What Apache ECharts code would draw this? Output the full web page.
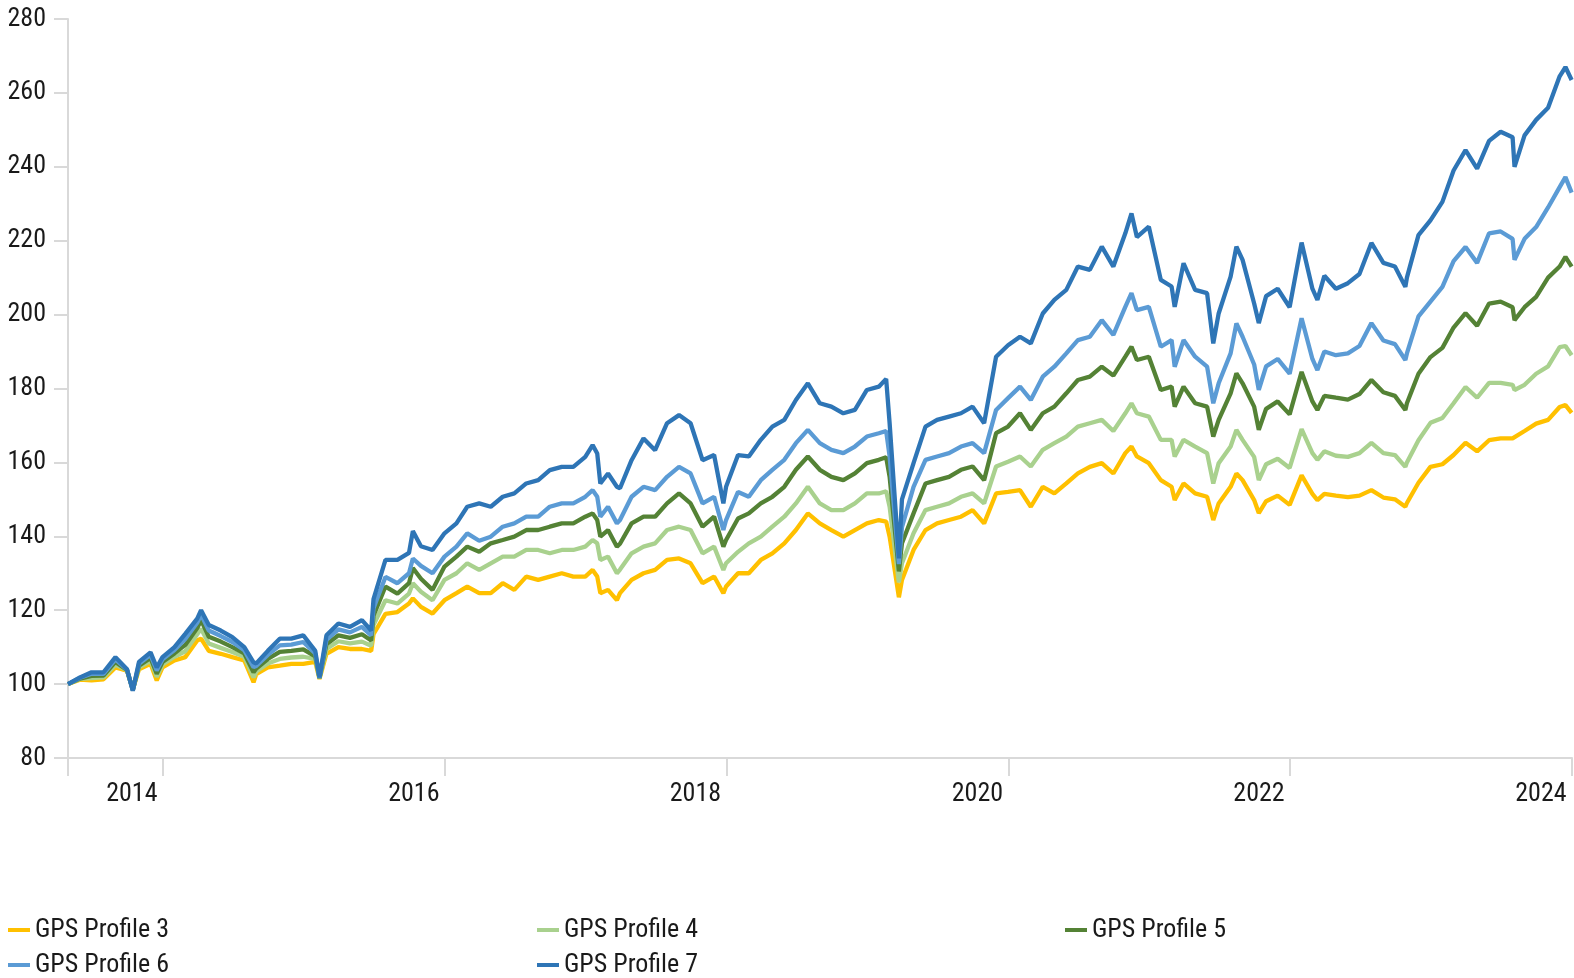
<!DOCTYPE html>
<html><head><meta charset="utf-8">
<script src="https://cdn.jsdelivr.net/npm/echarts@6/dist/echarts.min.js"></script>
<style>html,body{margin:0;padding:0;background:#fff}#c{width:1574px;height:978px}</style>
</head><body><div id="c"></div>
<script>
const dates = ['2014-04-30','2014-05-31','2014-06-30','2014-07-31','2014-08-31','2014-09-30','2014-10-15','2014-10-31','2014-11-30','2014-12-16',
'2014-12-31','2015-01-31','2015-02-28','2015-03-31','2015-04-10','2015-04-30','2015-05-31','2015-06-30','2015-07-31','2015-08-24',
'2015-08-31','2015-09-30','2015-10-31','2015-11-30','2015-12-31','2016-01-31','2016-02-11','2016-02-29','2016-03-31','2016-04-30',
'2016-05-31','2016-06-24','2016-06-30','2016-07-31','2016-08-31','2016-09-30','2016-10-10','2016-10-31','2016-11-30','2016-12-31',
'2017-01-31','2017-02-28','2017-03-31','2017-04-30','2017-05-31','2017-06-30','2017-07-31','2017-08-31','2017-09-30','2017-10-31',
'2017-11-30','2017-12-31','2018-01-19','2018-01-31','2018-02-08','2018-02-28','2018-03-23','2018-03-31','2018-04-30','2018-05-31',
'2018-06-30','2018-07-31','2018-08-31','2018-09-30','2018-10-31','2018-11-30','2018-12-24','2018-12-31','2019-01-31','2019-02-28',
'2019-03-31','2019-04-30','2019-05-31','2019-06-30','2019-07-31','2019-08-31','2019-09-30','2019-10-31','2019-11-30','2019-12-31',
'2020-01-31','2020-02-19','2020-02-28','2020-03-23','2020-03-31','2020-04-30','2020-05-31','2020-06-30','2020-07-31','2020-08-31',
'2020-09-30','2020-10-30','2020-11-30','2020-12-31','2021-01-31','2021-02-28','2021-03-31','2021-04-30','2021-05-31','2021-06-30',
'2021-07-31','2021-08-31','2021-09-30','2021-10-31','2021-11-16','2021-11-30','2021-12-31','2022-01-31','2022-02-28','2022-03-08',
'2022-03-31','2022-04-30','2022-05-31','2022-06-16','2022-06-30','2022-07-31','2022-08-15','2022-08-31','2022-09-30','2022-10-12',
'2022-10-31','2022-11-30','2022-12-31','2023-01-31','2023-02-28','2023-03-13','2023-03-31','2023-04-30','2023-05-31','2023-06-30',
'2023-07-31','2023-08-31','2023-09-30','2023-10-27','2023-10-31','2023-11-30','2023-12-31','2024-01-31','2024-02-29','2024-03-31',
'2024-04-30','2024-05-31','2024-06-30','2024-07-31','2024-08-05','2024-08-31','2024-09-30','2024-10-31','2024-11-30','2024-12-15',
'2024-12-31'];

const profile3 = [100,101.2,101.0,101.3,104.5,103.6,98.6,104.0,105.5,101.0,
104.5,106.4,107.3,111.8,112.3,109.0,108.2,107.3,106.4,100.5,
102.7,104.5,105.0,105.5,105.5,106.0,101.4,108.2,110.0,109.5,
109.5,109.0,113.5,119.0,119.5,121.8,123.2,120.9,119.1,122.7,
124.6,126.4,124.6,124.6,127.3,125.5,129.1,128.2,129.1,130.0,
129.1,129.1,130.9,129.1,124.6,125.5,122.7,124.6,128.2,130.0,
130.9,133.6,134.0,132.7,127.3,129.1,124.6,126.4,130.0,130.0,
133.6,135.4,138.1,141.7,146.2,143.5,141.7,139.9,141.7,143.5,
144.4,144.0,139.9,123.5,128.2,136.3,141.7,143.5,144.4,145.3,
147.1,143.5,151.6,152.0,152.5,148.0,153.4,151.6,154.3,157.0,
158.8,159.8,157.0,162.5,164.3,161.6,159.8,155.2,153.4,149.8,
154.3,151.6,150.7,144.4,148.9,153.4,157.0,155.2,149.8,146.3,
149.5,151.0,148.5,156.5,151.5,149.8,151.5,151.0,150.6,151.0,
152.5,150.5,150.0,148.0,149.0,154.5,158.8,159.5,162.0,165.3,
163.0,166.0,166.5,166.5,166.0,168.5,170.5,171.5,175.0,175.5,
173.4];

const profile4 = [100,101.4,101.6,101.8,105.3,103.7,98.5,104.5,106.3,102.0,
105.3,107.4,108.9,113.5,115.0,111.0,109.8,108.7,107.4,101.8,
103.4,105.6,106.8,107.2,107.4,106.8,101.5,109.5,111.6,111.0,
111.5,110.4,116.0,122.7,121.8,124.5,127.3,125.0,122.7,128.2,
130.0,132.7,130.9,132.7,134.5,134.5,136.3,136.3,135.4,136.3,
136.3,137.2,139.0,138.1,133.6,134.5,130.0,131.0,135.4,137.2,
138.1,141.7,142.6,141.7,135.4,137.2,130.9,132.7,135.8,138.1,
139.9,142.6,145.3,148.9,153.4,148.9,147.1,147.1,148.9,151.6,
151.6,152.2,148.0,127.5,132.7,140.8,147.1,148.0,148.9,150.7,
151.6,148.9,158.9,160.2,161.6,158.9,163.4,165.2,167.0,169.7,
170.6,171.5,168.5,173.3,176.0,173.3,172.4,166.1,166.1,161.6,
166.1,164.3,162.5,154.3,159.8,164.3,168.8,166.1,161.5,155.2,
159.5,161.0,158.5,169.0,162.5,160.7,163.0,161.8,161.5,162.5,
165.3,162.5,162.0,158.8,160.0,166.0,170.7,172.0,176.0,180.4,
177.5,181.5,181.5,181.0,179.6,181.0,184.0,186.0,191.2,191.5,
189.0];

const profile5 = [100,101.5,102.2,102.3,106.0,103.8,98.4,105.0,107.1,102.8,
106.0,108.3,110.6,115.2,117.3,112.8,111.5,110.0,108.3,103.2,
104.2,106.8,108.7,109.0,109.4,107.5,101.6,110.8,113.2,112.5,
113.5,111.8,118.5,126.4,124.5,127.3,131.4,128.5,125.5,131.8,
134.5,137.2,135.8,138.1,139.0,139.9,141.7,141.7,142.6,143.5,
143.5,145.3,146.2,144.4,139.9,141.7,137.2,138.0,143.5,145.3,
145.3,148.9,151.6,148.9,142.6,145.3,137.2,139.0,144.8,146.2,
148.9,150.7,153.4,158.0,161.6,158.0,156.1,155.2,157.0,159.8,
160.7,161.4,156.1,130.5,138.1,146.2,154.3,155.2,156.1,158.0,
158.9,155.2,167.9,169.7,173.3,168.8,173.3,175.1,178.7,182.3,
183.2,185.9,183.5,188.6,191.3,187.7,188.6,179.6,180.5,175.1,
180.5,176.0,175.1,167.0,171.5,178.7,184.1,181.4,175.1,168.8,
174.5,176.5,173.0,184.5,176.5,174.2,178.0,177.5,177.0,178.5,
182.3,179.0,178.0,174.2,176.0,184.0,188.5,191.0,196.5,200.4,
197.0,203.0,203.5,202.0,198.5,202.0,204.8,210.0,213.0,215.6,
213.0];

const profile6 = [100,101.7,102.8,102.8,106.7,103.9,98.3,105.5,107.9,103.7,
106.7,109.2,112.2,116.6,118.8,114.5,113.0,111.4,109.2,104.6,
104.9,107.9,110.5,110.7,111.4,108.3,101.7,112.0,114.8,114.0,
115.5,113.2,120.5,129.0,127.3,130.0,134.0,132.0,130.0,134.5,
137.2,140.8,138.8,139.9,142.6,143.5,145.3,145.3,148.0,148.9,
148.9,150.7,152.5,150.7,145.3,148.0,143.5,144.4,150.7,153.4,
152.5,156.1,158.8,157.0,148.9,150.7,141.7,144.4,152.0,150.7,
155.2,158.0,160.7,165.2,168.8,165.2,163.4,162.5,164.3,167.0,
167.9,168.5,161.6,132.5,142.5,153.4,160.7,161.6,162.5,164.3,
165.2,162.5,174.2,177.4,180.5,176.9,183.2,185.9,189.5,193.1,
194.0,198.5,194.5,202.1,205.8,201.2,202.1,191.3,193.1,185.9,
193.1,188.6,185.9,176.0,181.4,189.5,197.6,194.0,186.5,179.6,
186.0,188.0,184.0,199.0,188.0,185.0,190.0,189.0,189.5,191.5,
197.7,193.0,192.0,187.7,189.5,199.5,203.5,207.5,214.5,218.3,
214.0,222.0,222.5,220.5,214.8,220.5,223.7,229.0,234.5,237.2,
233.0];

const profile7 = [100,101.8,103.2,103.2,107.3,104.0,98.2,106.0,108.6,104.5,
107.3,110.0,113.6,117.7,120.0,116.0,114.5,112.7,110.0,105.9,
105.6,109.0,112.3,112.3,113.2,109.0,101.8,113.2,116.4,115.5,
117.3,114.5,123.0,133.6,133.6,135.5,141.4,137.3,136.3,140.8,
143.5,148.0,148.9,148.0,150.7,151.6,154.3,155.2,157.9,158.8,
158.8,161.5,164.7,162.4,154.3,157.0,153.4,153.0,160.6,166.5,
163.3,170.6,172.8,170.6,160.6,162.0,148.9,153.4,162.0,161.6,
166.1,169.7,171.5,176.9,181.4,176.0,175.1,173.3,174.2,179.6,
180.5,182.6,170.6,134.0,150.0,159.8,169.7,171.5,172.4,173.3,
175.1,170.6,188.6,191.7,194.0,192.2,200.3,204.0,206.7,213.0,
212.1,218.4,213.0,222.0,227.4,221.0,223.8,209.4,207.6,202.1,
213.9,206.7,205.8,192.2,200.3,210.3,218.4,214.8,203.0,197.7,
205.0,207.0,202.0,219.5,207.0,204.0,210.5,207.0,208.5,211.0,
219.4,214.0,213.0,207.5,210.0,221.5,225.5,230.5,239.0,244.5,
239.5,247.0,249.5,248.0,240.0,248.5,252.7,256.0,264.5,267.0,
263.5];

const seriesNames = ['GPS Profile 3','GPS Profile 4','GPS Profile 5','GPS Profile 6','GPS Profile 7'];
const seriesValues = [profile3, profile4, profile5, profile6, profile7];
const seriesColors = ['#FFC000','#A9D18E','#548235','#5B9BD5','#2E75B6'];

const xAxisStart = '2014-04-30';
const xAxisEnd = '2025-01-01';
const xTickDates = ['2014-04-30','2015-01-01','2017-01-01','2019-01-01','2021-01-01','2023-01-01','2025-01-01'];
const xLabelDates = ['2014-12-31','2016-12-31','2018-12-31','2020-12-31','2022-12-31','2024-12-31'];

const ts = s => { const p = s.split('-').map(Number); return Date.UTC(p[0], p[1]-1, p[2]); };

// choose the narrowest available sans font (the original uses a condensed face)
function fontAvailable(name){
  const c = document.createElement('canvas').getContext('2d');
  const s = 'GPS Profile 2014 abcdefghijklmnop';
  let diff = false;
  ['monospace','serif'].forEach(fb=>{
    c.font = '40px ' + fb; const a = c.measureText(s).width;
    c.font = "40px '" + name + "', " + fb; const b = c.measureText(s).width;
    if (Math.abs(a-b) > 0.5) diff = true;
  });
  return diff;
}
const fontCandidates = ['Liberation Sans Narrow','Arial Narrow','Roboto Condensed','Noto Sans Condensed','Open Sans Condensed','DejaVu Sans Condensed','Roboto','Liberation Sans'];
const FONT_NAME = fontCandidates.find(fontAvailable) || 'sans-serif';
const FONT = "'" + FONT_NAME + "', sans-serif";
const FS = (function(){
  const c = document.createElement('canvas').getContext('2d');
  c.font = "100px " + FONT;
  const w = c.measureText('GPS Profile 3').width;
  const sizeForWidth = 127 * 100 / w;
  return Math.min(28, Math.round((sizeForWidth + 28) / 2));
})();

const TXT = '#1a1a1a';
const AX = '#d9d9d9';

const legendPos = [
  {name:seriesNames[0], left:8, top:914},
  {name:seriesNames[1], left:537, top:914},
  {name:seriesNames[2], left:1065, top:914},
  {name:seriesNames[3], left:8, top:949},
  {name:seriesNames[4], left:537, top:949}
];

const chart = echarts.init(document.getElementById('c'), null, {renderer:'canvas'});
chart.setOption({
  animation:false,
  backgroundColor:'#fff',
  textStyle:{fontFamily:FONT},
  grid:{left:68, right:2, top:19, bottom:220, containLabel:false},
  legend: legendPos.map(p=>({
    data:[p.name], left:p.left, top:p.top, padding:0, orient:'horizontal',
    icon:'rect', itemWidth:22, itemHeight:4,
    textStyle:{fontFamily:FONT, fontSize:FS, color:TXT, lineHeight:32}
  })),
  xAxis:{
    type:'value', min:ts(xAxisStart), max:ts(xAxisEnd), scale:true,
    axisLine:{show:true, lineStyle:{color:AX, width:2}},
    axisTick:{show:true, customValues:xTickDates.map(ts), length:18, lineStyle:{color:AX, width:2}},
    axisLabel:{customValues:xLabelDates.map(ts), formatter:v=>String(new Date(v).getUTCFullYear()),
      align:'right', padding:[0,5,0,0], margin:23, fontSize:FS, color:TXT, fontFamily:FONT},
    splitLine:{show:false}
  },
  yAxis:{
    type:'value', min:80, max:280, interval:20,
    axisLine:{show:true, lineStyle:{color:AX, width:2}},
    axisTick:{show:true, length:14, lineStyle:{color:AX, width:2}},
    axisLabel:{margin:22, fontSize:FS, color:TXT, fontFamily:FONT},
    splitLine:{show:false}
  },
  series: seriesNames.map((name,k)=>({
    name, type:'line', showSymbol:false, symbol:'none',
    lineStyle:{width:4.3, color:seriesColors[k]}, itemStyle:{color:seriesColors[k]},
    data: dates.map((d,i)=>[ts(d), seriesValues[k][i]])
  }))
});
</script></body></html>
